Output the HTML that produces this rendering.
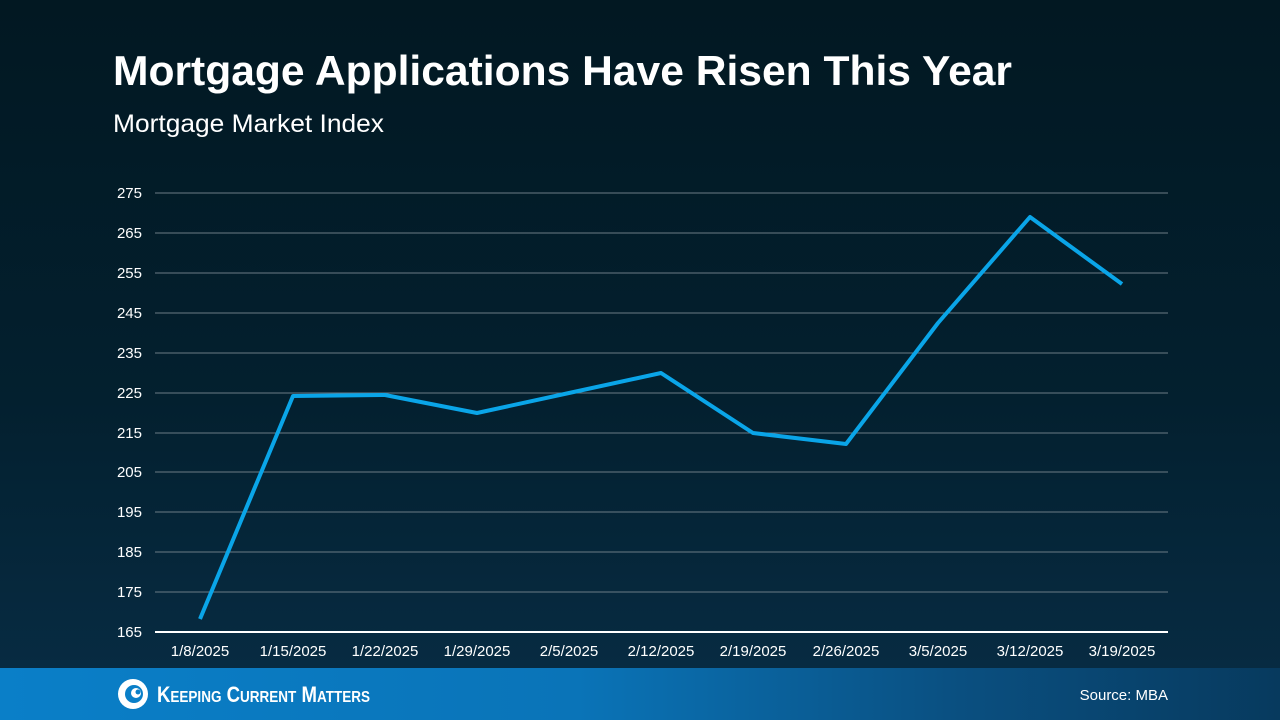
<!DOCTYPE html>
<html><head><style>
body{margin:0;width:1280px;height:720px;overflow:hidden;font-family:"Liberation Sans",sans-serif;}
.bg{position:absolute;left:0;top:0;width:1280px;height:668px;background:linear-gradient(180deg,#021822 0%,#03202f 60%,#072b42 100%);}
.foot{position:absolute;left:0;top:668px;width:1280px;height:52px;background:linear-gradient(90deg,#0a7fc8 0%,#0a74b8 45%,#0a4f80 75%,#073a5e 100%);}
</style></head><body>
<div class="bg"></div>
<div class="foot"></div>
<svg width="1280" height="720" style="position:absolute;left:0;top:0">
<text x="113" y="85" fill="#fff" font-size="42" font-weight="bold" font-family="Liberation Sans" textLength="899" lengthAdjust="spacingAndGlyphs">Mortgage Applications Have Risen This Year</text>
<text x="113" y="132" fill="#fff" font-size="25" font-family="Liberation Sans" textLength="271" lengthAdjust="spacingAndGlyphs">Mortgage Market Index</text>
<g stroke="#6b7b85" stroke-width="1">
<line x1="155" x2="1168" y1="193" y2="193"/><line x1="155" x2="1168" y1="233" y2="233"/>
<line x1="155" x2="1168" y1="273" y2="273"/><line x1="155" x2="1168" y1="313" y2="313"/>
<line x1="155" x2="1168" y1="353" y2="353"/><line x1="155" x2="1168" y1="393" y2="393"/>
<line x1="155" x2="1168" y1="433" y2="433"/><line x1="155" x2="1168" y1="472" y2="472"/>
<line x1="155" x2="1168" y1="512" y2="512"/><line x1="155" x2="1168" y1="552" y2="552"/>
<line x1="155" x2="1168" y1="592" y2="592"/>
</g>
<line x1="155" x2="1168" y1="632" y2="632" stroke="#fff" stroke-width="2"/>
<g fill="#fff" font-size="15" text-anchor="end" font-family="Liberation Sans">
<text x="142" y="198">275</text><text x="142" y="238">265</text><text x="142" y="278">255</text>
<text x="142" y="318">245</text><text x="142" y="358">235</text><text x="142" y="398">225</text>
<text x="142" y="438">215</text><text x="142" y="477">205</text><text x="142" y="517">195</text>
<text x="142" y="557">185</text><text x="142" y="597">175</text><text x="142" y="637">165</text>
</g>
<g fill="#fff" font-size="15" text-anchor="middle" font-family="Liberation Sans">
<text x="200" y="656">1/8/2025</text><text x="293" y="656">1/15/2025</text><text x="385" y="656">1/22/2025</text>
<text x="477" y="656">1/29/2025</text><text x="569" y="656">2/5/2025</text><text x="661" y="656">2/12/2025</text>
<text x="753" y="656">2/19/2025</text><text x="846" y="656">2/26/2025</text><text x="938" y="656">3/5/2025</text>
<text x="1030" y="656">3/12/2025</text><text x="1122" y="656">3/19/2025</text>
</g>
<polyline fill="none" stroke="#0aa5e8" stroke-width="4" stroke-linejoin="round" points="200,619 293,396 385,395 477,413 569,393 661,373 753,433 846,444 938,323 1030,217 1122,284"/>
<circle cx="133" cy="694" r="15" fill="#fff"/>
<circle cx="134" cy="694" r="9" fill="#0a7fc8"/>
<circle cx="136" cy="693" r="5" fill="#fff"/>
<circle cx="138" cy="692" r="2.5" fill="#0a7fc8"/>
<text x="157" y="702" fill="#fff" font-size="22" font-weight="bold" font-family="Liberation Sans" textLength="213" lengthAdjust="spacingAndGlyphs">K<tspan font-size="16">EEPING</tspan> C<tspan font-size="16">URRENT</tspan> M<tspan font-size="16">ATTERS</tspan></text>
<text x="1168" y="700" fill="#fff" font-size="15" text-anchor="end" font-family="Liberation Sans">Source: MBA</text>
</svg>
</body></html>
